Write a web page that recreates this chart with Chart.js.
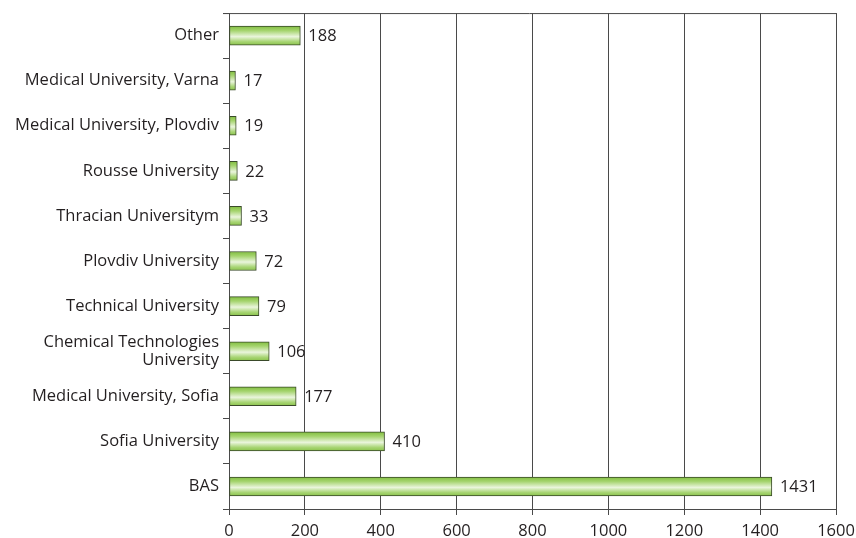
<!DOCTYPE html>
<html>
<head>
<meta charset="utf-8">
<script src="https://cdn.jsdelivr.net/npm/chart.js@4"></script>
<style>
  html, body { margin: 0; padding: 0; background: #fff; }
  #wrap { width: 856px; height: 538px; }
</style>
</head>
<body>
<div id="wrap"><canvas id="chart"></canvas></div>
<script>
const institutions = [
    'Other',
    'Medical University, Varna',
    'Medical University, Plovdiv',
    'Rousse University',
    'Thracian Universitym',
    'Plovdiv University',
    'Technical University',
    ['Chemical Technologies', 'University'],
    'Medical University, Sofia',
    'Sofia University',
    'BAS',
];
const projects = [188, 17, 19, 22, 33, 72, 79, 106, 177, 410, 1431];
const xTicks = [0, 200, 400, 600, 800, 1000, 1200, 1400, 1600];

const FONT = '"Open Sans", "DejaVu Sans", sans-serif';
const TEXT = '#231f20';
const LINE = '#4a4a4a';

function barGradient(context) {
    const chart = context.chart;
    const yScale = chart.scales.y;
    if (!yScale || context.dataIndex === undefined) return '#a8d46f';
    const cy = yScale.getPixelForValue(context.dataIndex);
    if (!isFinite(cy)) return '#a8d46f';
    const half = 10;
    const g = chart.ctx.createLinearGradient(0, cy - half, 0, cy + half);
    g.addColorStop(0, '#7dbb3a');
    g.addColorStop(0.25, '#a5d46e');
    g.addColorStop(0.55, '#eaf5dc');
    g.addColorStop(0.8, '#a8d574');
    g.addColorStop(1, '#86c046');
    return g;
}

const valueLabels = {
    id: 'valueLabels',
    afterDatasetsDraw(chart) {
        const ctx = chart.ctx;
        const meta = chart.getDatasetMeta(0);
        ctx.save();
        ctx.font = '16.5px ' + FONT;
        ctx.fillStyle = TEXT;
        ctx.textAlign = 'left';
        ctx.textBaseline = 'middle';
        meta.data.forEach((bar, i) => {
            ctx.fillText(String(projects[i]), bar.x + 8, bar.y + 1);
        });
        ctx.restore();
    },
};

const topBorder = {
    id: 'topBorder',
    afterDraw(chart) {
        const a = chart.chartArea;
        const ctx = chart.ctx;
        ctx.save();
        ctx.strokeStyle = LINE;
        ctx.lineWidth = 1;
        ctx.beginPath();
        ctx.moveTo(a.left - 6, a.top + 0.5);
        ctx.lineTo(a.right, a.top + 0.5);
        ctx.stroke();
        ctx.restore();
    },
};

new Chart(document.getElementById('chart'), {
    type: 'bar',
    data: {
        labels: institutions,
        datasets: [{
            data: projects,
            backgroundColor: barGradient,
            borderColor: '#3a4a2a',
            borderWidth: 1,
            borderSkipped: false,
            barThickness: 19,
        }],
    },
    options: {
        indexAxis: 'y',
        responsive: true,
        maintainAspectRatio: false,
        animation: false,
        layout: { padding: { top: 12, right: 20, left: 4, bottom: 0 } },
        plugins: {
            legend: { display: false },
            tooltip: { enabled: false },
        },
        scales: {
            x: {
                min: 0,
                max: 1600,
                afterBuildTicks: scale => {
                    scale.ticks = xTicks.map(v => ({ value: v }));
                },
                afterFit: scale => {
                    scale.height = 29;
                    scale.paddingRight = 0;
                    scale.paddingLeft = 0;
                },
                grid: {
                    color: LINE,
                    lineWidth: 1,
                    tickLength: 6,
                    drawOnChartArea: true,
                },
                border: { color: LINE, width: 1 },
                ticks: {
                    color: TEXT,
                    font: { family: FONT, size: 16.5 },
                    padding: 6,
                    maxRotation: 0,
                    callback: value => String(value),
                },
            },
            y: {
                offset: true,
                afterFit: scale => { scale.width = 225; },
                grid: {
                    offset: true,
                    drawOnChartArea: false,
                    color: LINE,
                    tickLength: 6,
                },
                border: { color: LINE, width: 1 },
                ticks: {
                    color: TEXT,
                    font: { family: FONT, size: 16.5, lineHeight: 1.1 },
                    padding: 4,
                    autoSkip: false,
                },
            },
        },
    },
    plugins: [valueLabels, topBorder],
});
</script>
</body>
</html>
